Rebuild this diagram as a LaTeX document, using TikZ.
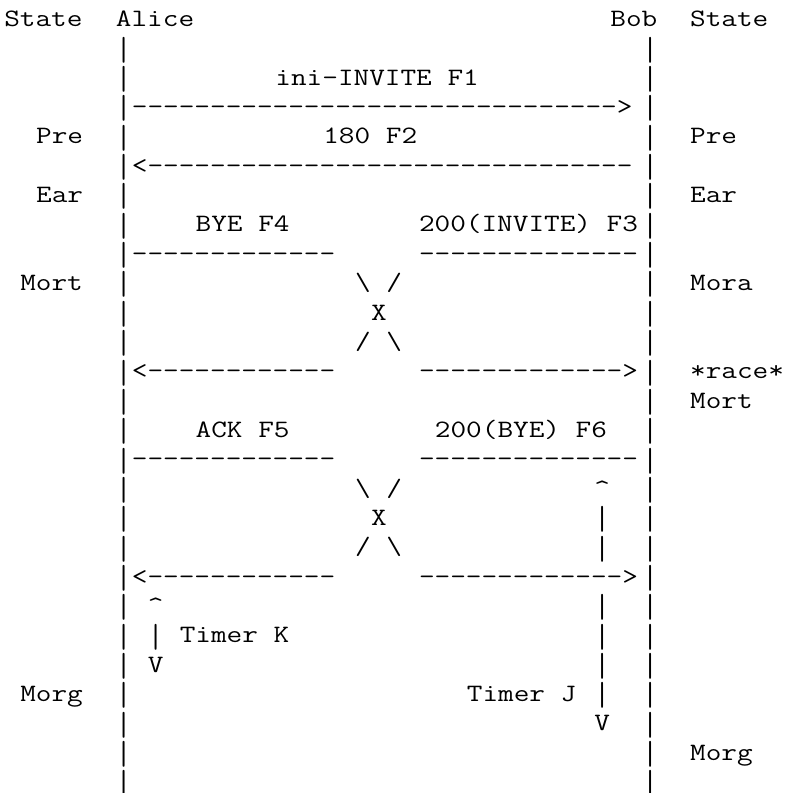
\documentclass[tikz,border=0pt]{standalone}
\usepackage{tikz}
\tikzset{
	ascii/.style = {font=\ttfamily\fontsize{12.5}{15}\selectfont, anchor=base west, inner sep=0pt, outer sep=0pt, xscale=1.215},
	vbar/.style = {ascii, yshift=-2.15pt, yscale=1.335}
}
\newcommand{\dashrun}[1]{\foreach \k in {1,...,#1}{-\kern0pt}}
\newcommand{\bs}{\textbackslash}
\newcommand{\caret}{\textasciicircum}

\begin{document}
\begin{tikzpicture}[x=7.975pt, y=-14.675pt]
	\useasboundingbox (-0.27,-0.903) rectangle (49.2,26.116);
	
	\foreach \r in {1,...,26} {
		\node [vbar] (lbar\r) at (7,\r) {|};
		\node [vbar] (rbar\r) at (40,\r) {|};
	}
	
	\node [ascii] (stateA) at (0,0) {State};
	\node [ascii] (alice) at (7,0) {Alice};
	\node [ascii] (bob) at (38,0) {Bob};
	\node [ascii] (stateB) at (43,0) {State};
	
	\node [ascii] (f1) at (17,2) {ini-INVITE F1};
	\node [ascii] (f1line) at (8,3) {\dashrun{31}>};
	\node [ascii] (preA) at (2,4) {Pre};
	\node [ascii] (f2) at (20,4) {180 F2};
	\node [ascii] (preB) at (43,4) {Pre};
	\node [ascii] (f2line) at (8,5) {<\dashrun{31}};
	\node [ascii] (earA) at (2,6) {Ear};
	\node [ascii] (earB) at (43,6) {Ear};
	
	\node [ascii] (f4) at (12,7) {BYE F4};
	\node [ascii] (f3) at (26,7) {200(INVITE) F3};
	\node [ascii] (f4top) at (8,8) {\dashrun{13}};
	\node [ascii] (f3top) at (26,8) {\dashrun{14}};
	\node [ascii] (mortA) at (1,9) {Mort};
	\node [ascii] (crossAtop) at (22,9) {\bs\ /};
	\node [ascii] (mora) at (43,9) {Mora};
	\node [ascii] (crossA) at (23,10) {X};
	\node [ascii] (crossAbot) at (22,11) {/ \bs};
	\node [ascii] (f3end) at (8,12) {<\dashrun{12}};
	\node [ascii] (f4end) at (26,12) {\dashrun{13}>};
	\node [ascii] (race) at (43,12) {*race*};
	\node [ascii] (mortB) at (43,13) {Mort};
	
	\node [ascii] (f5) at (12,14) {ACK F5};
	\node [ascii] (f6) at (27,14) {200(BYE) F6};
	\node [ascii] (f5top) at (8,15) {\dashrun{13}};
	\node [ascii] (f6top) at (26,15) {\dashrun{14}};
	\node [ascii] (crossBtop) at (22,16) {\bs\ /};
	\node [ascii] (timerJup) at (37,16) {\caret};
	\node [ascii] (crossB) at (23,17) {X};
	\node [ascii] (crossBbot) at (22,18) {/ \bs};
	\node [ascii] (f6end) at (8,19) {<\dashrun{12}};
	\node [ascii] (f5end) at (26,19) {\dashrun{13}>};
	
	\foreach \r in {17,18,20,21,22,23} {
		\node [vbar] (timerJbar\r) at (37,\r) {|};
	}
	\node [ascii] (timerKup) at (9,20) {\caret};
	\node [vbar] (timerKbar) at (9,21) {|};
	\node [ascii] (timerK) at (11,21) {Timer K};
	\node [ascii] (timerKdown) at (9,22) {V};
	\node [ascii] (morgA) at (1,23) {Morg};
	\node [ascii] (timerJ) at (29,23) {Timer J};
	\node [ascii] (timerJdown) at (37,24) {V};
	\node [ascii] (morgB) at (43,25) {Morg};
\end{tikzpicture}
\end{document}
